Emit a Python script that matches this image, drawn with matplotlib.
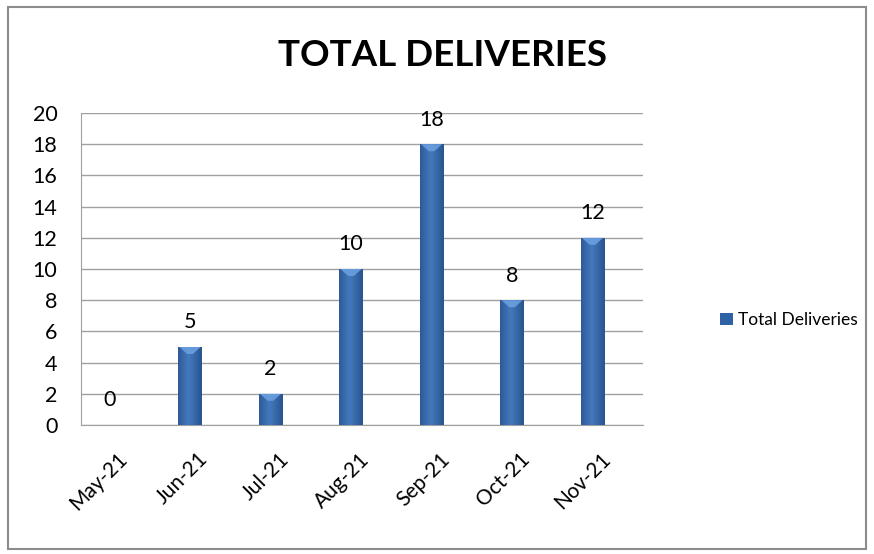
import matplotlib
matplotlib.use("Agg")
import matplotlib.pyplot as plt
import matplotlib.transforms as mtransforms
import numpy as np
from matplotlib.patches import Rectangle, Polygon

categories = ["May-21", "Jun-21", "Jul-21", "Aug-21", "Sep-21", "Oct-21", "Nov-21"]
values = [0, 5, 2, 10, 18, 8, 12]
series_name = "Total Deliveries"
title = "TOTAL DELIVERIES"
yticks = [0, 2, 4, 6, 8, 10, 12, 14, 16, 18, 20]

plt.rcParams['font.family'] = ['Lato', 'Open Sans', 'DejaVu Sans']

fig = plt.figure(figsize=(8.74, 5.54), dpi=100)
ax = fig.add_axes([81/874, 1-425/554, (643-81)/874, (425-113)/554])

x = np.arange(len(categories))
bars = ax.bar(x, values, width=0.29, color="#2F62A4", edgecolor="none", zorder=3, label=series_name)

# horizontal gradient inside each bar
grad = np.linspace(0, 1, 64)
shade = 1 - 0.6 * np.abs(grad - 0.45) * 2
cmap = matplotlib.colors.LinearSegmentedColormap.from_list("b", ["#1A4176", "#4479BE"])
img = shade.reshape(1, -1)
for p in bars:
    h = p.get_height()
    if h <= 0:
        continue
    x0, w = p.get_x(), p.get_width()
    im = ax.imshow(img, extent=[x0, x0 + w, 0, h], aspect='auto', cmap=cmap,
                   vmin=0, vmax=1, zorder=4, interpolation='bicubic')
    im.set_clip_path(p)
    bev = 0.45
    tri = Polygon([[x0 + w * 0.05, h], [x0 + w * 0.95, h], [x0 + w * 0.62, h - bev], [x0 + w * 0.38, h - bev]],
                  closed=True, facecolor="#6A9FDF", edgecolor="none", zorder=5, alpha=0.9)
    ax.add_patch(tri)

ax.set_xlim(-0.354, 6.627)
ax.set_ylim(0, 20)
ax.set_yticks(yticks)
ax.set_xticks(x)
ax.set_xticklabels([])
offset = mtransforms.ScaledTranslation(8/100, -24/100, fig.dpi_scale_trans)
for xi, lab in zip(x, categories):
    ax.text(xi, 0, lab, transform=ax.get_xaxis_transform() + offset, rotation=45,
            ha='right', va='top', rotation_mode='anchor', fontsize=15)
ax.tick_params(axis='y', length=0, pad=17, labelsize=15.5)
ax.tick_params(axis='x', length=0)
ax.yaxis.grid(True, color="#A0A0A0", linewidth=1.0, zorder=0)
ax.set_axisbelow(True)
for s in ["top", "right"]:
    ax.spines[s].set_visible(False)
ax.spines["left"].set_color("#A0A0A0")
ax.spines["bottom"].set_color("#A0A0A0")

ax.bar_label(bars, labels=[str(v) for v in values], padding=10.5, fontsize=15.5, zorder=6)

fig.text(443/874, 1-55/554, title, ha='center', va='center', fontsize=26.5, fontweight='bold')

leg = ax.legend(loc='center left', bbox_to_anchor=(720/874, 1-320/554), bbox_transform=fig.transFigure,
                frameon=False, fontsize=12.5, handlelength=0.75, handleheight=0.75, handletextpad=0.3,
                borderaxespad=0, borderpad=0)

fig.patches.append(Rectangle((8/874, 1-549/554), (866-8)/874, (549-7)/554, transform=fig.transFigure,
                             fill=False, edgecolor="#8C8C8C", linewidth=1.5))

fig.savefig("out.png", dpi=100)
